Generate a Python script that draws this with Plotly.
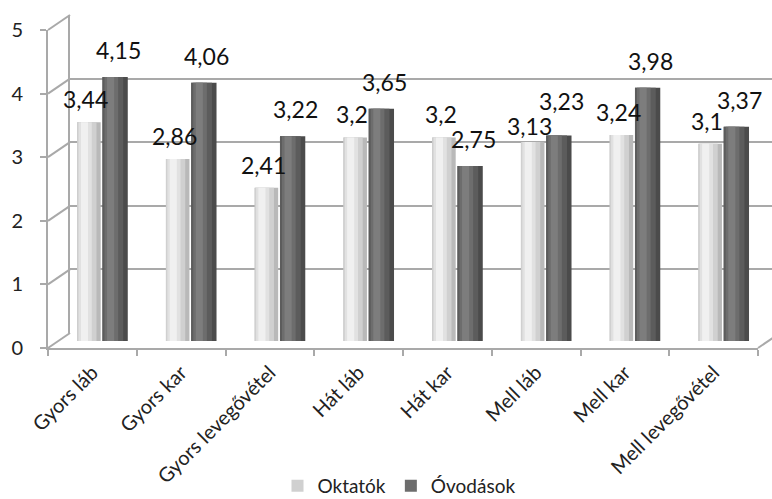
import plotly.graph_objects as go

# ---------------- data ----------------
categories = ["Gyors láb", "Gyors kar", "Gyors levegővétel", "Hát láb",
              "Hát kar", "Mell láb", "Mell kar", "Mell levegővétel"]
oktatok = [3.44, 2.86, 2.41, 3.2, 3.2, 3.13, 3.24, 3.1]
ovodasok = [4.15, 4.06, 3.22, 3.65, 2.75, 3.23, 3.98, 3.37]
y_ticks = [0, 1, 2, 3, 4, 5]
series_names = ["Oktatók", "Óvodások"]

# ---------------- geometry helpers ----------------
W, H = 772, 499
def fx(p):
    return p / W
def fy(p):
    return 1 - p / H

PXU = 63.6          # pixels per unit
FRONT0, BACK0, BAR0 = 348, 333, 341
FRONT_X, BACK_X = 48, 70
FRONT_R = 758
GRID = "#a9a9a9"
FONT = "Lato, Open Sans, sans-serif"

fig = go.Figure()

# empty helper traces so that the back-wall and front-axis subplots are drawn
fig.add_trace(go.Scatter(x=[], y=[], xaxis="x", yaxis="y", showlegend=False,
                         hoverinfo="skip"))
fig.add_trace(go.Scatter(x=[], y=[], xaxis="x2", yaxis="y2", showlegend=False,
                         hoverinfo="skip"))

light_layers = [(0.0, 1.0, "#b9b9b9"), (0.0, 0.82, "#d0d0d0"),
                (0.06, 0.62, "#e1e1e1"), (0.16, 0.46, "#f0f0f0")]
dark_layers = [(0.0, 1.0, "#4b4b4b"), (0.0, 0.82, "#5c5c5c"),
               (0.08, 0.62, "#6d6d6d"), (0.18, 0.46, "#7d7d7d")]
LIGHT_OFF, LIGHT_W = -0.285, 0.265
DARK_OFF, DARK_W = 0.0, 0.285

def add_series(vals, name, layers, off, w, legend_idx):
    for k, (a, b, col) in enumerate(layers):
        fig.add_trace(go.Bar(
            x=categories, y=vals, name=name,
            offset=off + a * w, width=(b - a) * w,
            marker=dict(color=col, line=dict(width=0)),
            showlegend=(k == legend_idx), legendgroup=name,
            xaxis="x3", yaxis="y3", hoverinfo="skip"))

add_series(oktatok, series_names[0], light_layers, LIGHT_OFF, LIGHT_W, 1)
add_series(ovodasok, series_names[1], dark_layers, DARK_OFF, DARK_W, 2)

def fmt(v):
    return f"{v:g}".replace(".", ",")

annotations = []
for s, (vals, off, w, dx, dy) in enumerate(((oktatok, LIGHT_OFF, LIGHT_W, -3, 23),
                                            (ovodasok, DARK_OFF, DARK_W, 3, 27))):
    for i, v in enumerate(vals):
        shift = dy
        # pull labels of near-equal pairs apart vertically
        if abs(oktatok[i] - ovodasok[i]) < 0.2:
            shift += 8 if s == 1 else -7
        annotations.append(dict(
            x=i + off + w / 2, y=v, xref="x3", yref="y3", text=fmt(v),
            showarrow=False, xshift=dx, yshift=shift,
            font=dict(family=FONT, size=23, color="#111111")))

# 3D frame: slanted side-wall lines from front ticks to the back wall
shapes = []
for v in y_ticks:
    shapes.append(dict(type="line", xref="paper", yref="paper",
                       x0=fx(FRONT_X), y0=fy(FRONT0 - PXU * v),
                       x1=fx(BACK_X), y1=fy(BACK0 - PXU * v),
                       line=dict(color=GRID, width=2), layer="below"))
shapes.append(dict(type="line", xref="paper", yref="paper",
                   x0=fx(FRONT_R), y0=fy(FRONT0),
                   x1=fx(FRONT_R + BACK_X - FRONT_X), y1=fy(BACK0),
                   line=dict(color=GRID, width=2), layer="below"))

fig.update_layout(
    template="none",
    width=W, height=H,
    margin=dict(l=0, r=0, t=0, b=0, pad=0, autoexpand=False),
    paper_bgcolor="white", plot_bgcolor="rgba(0,0,0,0)",
    barmode="overlay",
    font=dict(family=FONT, color="#222222"),
    # back wall
    xaxis=dict(domain=[fx(BACK_X), 1], range=[0, 1], showticklabels=False,
               ticks="", showgrid=False, zeroline=False, showline=False,
               automargin=False, anchor="y"),
    yaxis=dict(domain=[fy(BACK0), fy(BACK0 - 5 * PXU)], range=[0, 5],
               tickvals=y_ticks, showticklabels=False, ticks="",
               showgrid=True, gridcolor=GRID, gridwidth=2, zeroline=False,
               showline=True, linecolor=GRID, linewidth=2,
               automargin=False, anchor="x"),
    # front axes
    xaxis2=dict(domain=[fx(FRONT_X), fx(FRONT_R)], range=[-0.5, 7.5],
                tickvals=list(range(len(categories))), ticktext=categories,
                ticks="", tickangle=-45, ticklabelstandoff=3,
                tickfont=dict(family=FONT, size=20, color="#222222"),
                minor=dict(tickvals=[i - 0.5 for i in range(len(categories) + 1)],
                           ticks="outside", ticklen=6, tickwidth=2, tickcolor=GRID),
                showline=True, linecolor=GRID, linewidth=2,
                showgrid=False, zeroline=False, automargin=False, anchor="y2"),
    yaxis2=dict(domain=[fy(FRONT0), fy(FRONT0 - 5 * PXU)], range=[0, 5],
                tickvals=y_ticks, ticks="outside", ticklen=6, tickwidth=2,
                tickcolor=GRID, ticklabelstandoff=13,
                tickfont=dict(family=FONT, size=20, color="#222222"),
                showline=True, linecolor=GRID, linewidth=2,
                showgrid=False, zeroline=False, automargin=False, anchor="x2"),
    # bars
    xaxis3=dict(domain=[fx(58.1), fx(768.1)], type="category",
                categoryorder="array", categoryarray=categories,
                range=[-0.5, 7.5], visible=False, automargin=False, anchor="y3"),
    yaxis3=dict(domain=[fy(BAR0), fy(BAR0 - 5 * PXU)], range=[0, 5],
                visible=False, automargin=False, anchor="x3"),
    legend=dict(orientation="h", x=fx(399), xanchor="center",
                y=-0.012, yanchor="bottom",
                font=dict(family=FONT, size=19, color="#222222"),
                bgcolor="rgba(0,0,0,0)"),
    annotations=annotations,
    shapes=shapes,
)

fig.write_html("out.html",
               config={"displayModeBar": False},
               post_script="document.body.style.margin='0';"
                           "document.body.style.overflow='hidden';")
